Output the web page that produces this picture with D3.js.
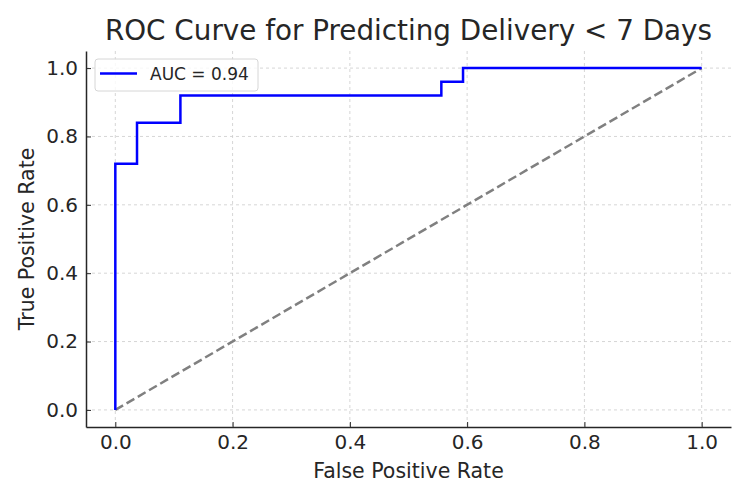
<!DOCTYPE html>
<html>
<head>
<meta charset="utf-8">
<script src="https://cdn.jsdelivr.net/npm/d3@7"></script>
<style>
  body { margin: 0; background: white; }
  text { font-family: "DejaVu Sans", sans-serif; fill: #262626; }
</style>
</head>
<body>
<div id="chart-area"></div>
<script>
// ROC data
var fpr = [0, 0, 0.037, 0.037, 0.111, 0.111, 0.556, 0.556, 0.593, 0.593, 1];
var tpr = [0, 0.72, 0.72, 0.84, 0.84, 0.92, 0.92, 0.96, 0.96, 1, 1];
var chanceX = [0, 1];
var chanceY = [0, 1];
var tickValues = [0, 0.2, 0.4, 0.6, 0.8, 1.0];
var aucLabel = "AUC = 0.94";

var width = 750, height = 500;
var plot = { left: 86, right: 731, top: 51, bottom: 427 };

var svg = d3.select("#chart-area").append("svg")
    .attr("width", width)
    .attr("height", height);

var x = d3.scaleLinear().domain([-0.05, 1.05]).range([plot.left, plot.right]);
var y = d3.scaleLinear().domain([-0.05, 1.05]).range([plot.bottom, plot.top]);

// grid
svg.append("g").selectAll("line")
    .data(tickValues).enter().append("line")
        .attr("x1", (d) => x(d)).attr("x2", (d) => x(d))
        .attr("y1", plot.top).attr("y2", plot.bottom)
        .attr("stroke", "#cccccc").attr("stroke-width", 0.8)
        .attr("stroke-dasharray", "3,3");
svg.append("g").selectAll("line")
    .data(tickValues).enter().append("line")
        .attr("x1", plot.left).attr("x2", plot.right)
        .attr("y1", (d) => y(d)).attr("y2", (d) => y(d))
        .attr("stroke", "#cccccc").attr("stroke-width", 0.8)
        .attr("stroke-dasharray", "3,3");

// x Axis
var xAxis = svg.append("g")
    .attr("transform", "translate(0," + plot.bottom + ")")
    .call(d3.axisBottom(x).tickValues(tickValues).tickFormat(d3.format(".1f"))
        .tickSizeInner(-5).tickSizeOuter(0).tickPadding(8));
xAxis.select(".domain").attr("stroke", "#262626").attr("stroke-width", 1.5);
xAxis.selectAll(".tick line").attr("stroke", "#262626").attr("stroke-width", 1);
xAxis.selectAll(".tick text").style("font-size", "20px").style("fill", "#262626")
    .style("font-family", "DejaVu Sans, sans-serif");

// y Axis
var yAxis = svg.append("g")
    .attr("transform", "translate(" + plot.left + ",0)")
    .call(d3.axisLeft(y).tickValues(tickValues).tickFormat(d3.format(".1f"))
        .tickSizeInner(-5).tickSizeOuter(0).tickPadding(8));
yAxis.select(".domain").attr("stroke", "#262626").attr("stroke-width", 1.5);
yAxis.selectAll(".tick line").attr("stroke", "#262626").attr("stroke-width", 1);
yAxis.selectAll(".tick text").style("font-size", "20px").style("fill", "#262626")
    .style("font-family", "DejaVu Sans, sans-serif");

// chance line
var line = d3.line().x((d) => x(d[0])).y((d) => y(d[1]));
svg.append("path")
    .datum(d3.zip(chanceX, chanceY))
    .attr("d", line)
    .attr("fill", "none")
    .attr("stroke", "#808080")
    .attr("stroke-width", 2.5)
    .attr("stroke-dasharray", "9,4");

// ROC curve
svg.append("path")
    .datum(d3.zip(fpr, tpr))
    .attr("d", line)
    .attr("fill", "none")
    .attr("stroke", "#0000ff")
    .attr("stroke-width", 2.5);

// legend
var lg = svg.append("g");
lg.append("rect")
    .attr("x", 95).attr("y", 59).attr("width", 163).attr("height", 32)
    .attr("rx", 3)
    .attr("fill", "white").attr("fill-opacity", 0.8)
    .attr("stroke", "#d6d6d6");
lg.append("line")
    .attr("x1", 100).attr("x2", 137).attr("y1", 73.5).attr("y2", 73.5)
    .attr("stroke", "#0000ff").attr("stroke-width", 2.5);
lg.append("text")
    .attr("x", 150).attr("y", 80)
    .style("font-size", "17px")
    .text(aucLabel);

// title
svg.append("text")
    .attr("x", (plot.left + plot.right) / 2)
    .attr("y", 39.5)
    .attr("text-anchor", "middle")
    .style("font-size", "27.8px")
    .text("ROC Curve for Predicting Delivery < 7 Days");

// x Label
svg.append("text")
    .attr("x", (plot.left + plot.right) / 2)
    .attr("y", 478)
    .attr("text-anchor", "middle")
    .style("font-size", "20.5px")
    .text("False Positive Rate");

// y Label
svg.append("text")
    .attr("x", -(y(0) + y(1)) / 2)
    .attr("y", 34)
    .attr("text-anchor", "middle")
    .attr("transform", "rotate(-90)")
    .style("font-size", "20.5px")
    .text("True Positive Rate");
</script>
</body>
</html>
